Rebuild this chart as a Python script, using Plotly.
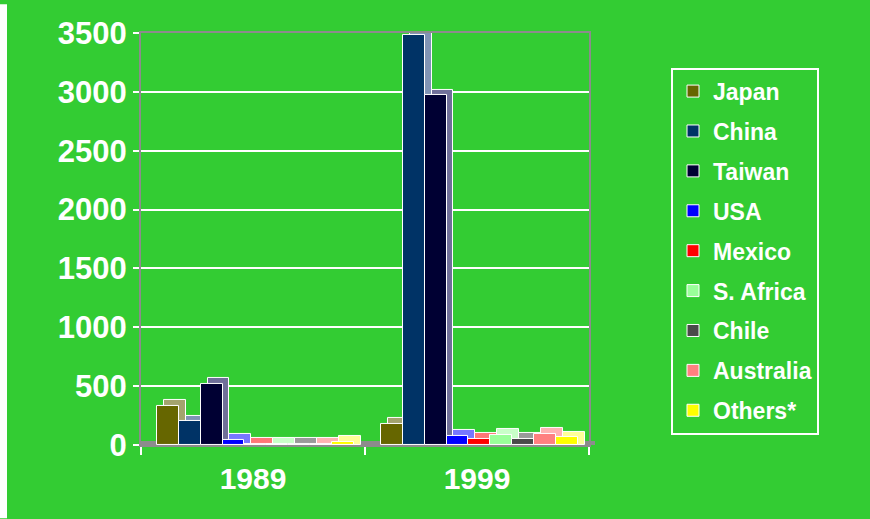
import plotly.graph_objects as go

years = ["1989", "1999"]
countries = ["Japan", "China", "Taiwan", "USA", "Mexico", "S. Africa", "Chile", "Australia", "Others*"]
values = {
    "Japan":     [330, 180],
    "China":     [200, 3480],
    "Taiwan":    [520, 2970],
    "USA":       [45, 80],
    "Mexico":    [8, 55],
    "S. Africa": [8, 85],
    "Chile":     [10, 55],
    "Australia": [10, 95],
    "Others*":   [25, 65],
}
front_colors = ["#666600", "#003366", "#000033", "#0000FF", "#FF0000", "#99FF99", "#4a4a4a", "#FF8080", "#FFFF00"]
side_colors = ["#a3a36e", "#7f93b5", "#6f6f99", "#7777ff", "#ff7777", "#c8ffc8", "#9a9a9a", "#ffb3b3", "#ffff99"]
y_ticks = [0, 500, 1000, 1500, 2000, 2500, 3000, 3500]

GREEN = "#33CC33"
SLOT = 0.098
START = -0.43
DX = 0.031
DY = 50

fig = go.Figure()
for i, c in enumerate(countries):
    vals = values[c]
    fig.add_trace(go.Bar(
        x=years, y=[v + DY for v in vals], offset=START + i * SLOT + DX, width=SLOT,
        marker=dict(color=side_colors[i], line=dict(color="white", width=1)),
        showlegend=False, hoverinfo="skip", xaxis="x", yaxis="y"))
    fig.add_trace(go.Bar(
        x=years, y=vals, offset=START + i * SLOT, width=SLOT, name=c,
        legendgroup=c,
        marker=dict(color=front_colors[i], line=dict(color="white", width=1)),
        xaxis="x", yaxis="y"))

font_b = dict(family="Liberation Sans, Arial, sans-serif", color="white", weight="bold")

fig.update_layout(
    width=870, height=519,
    margin=dict(l=141, r=275, t=25, b=74),
    paper_bgcolor=GREEN, plot_bgcolor="rgba(0,0,0,0)",
    barmode="overlay", bargap=0,
    xaxis=dict(type="category", domain=[0, 448 / 454], range=[-0.5, 1.5],
               showline=True, linecolor="white", linewidth=2,
               ticks="outside", tickson="boundaries", ticklen=8, tickwidth=2, tickcolor="white",
               tickfont=dict(size=30, **font_b), ticklabelstandoff=6, showgrid=False),
    yaxis=dict(domain=[0, 416 / 420], range=[0, 3500], tickvals=y_ticks,
               showline=True, linecolor="white", linewidth=2,
               ticks="outside", ticklen=6, tickwidth=2, tickcolor="white",
               tickfont=dict(size=31, **font_b), ticklabelstandoff=0,
               showgrid=False, zeroline=False),
    xaxis2=dict(domain=[6 / 454, 1], range=[0, 1], anchor="y2", overlaying="x",
                showline=True, linecolor="#8c8c8c", linewidth=2, mirror=True,
                showticklabels=False, ticks="", showgrid=False, zeroline=False),
    yaxis2=dict(domain=[4 / 420, 1], range=[0, 3500], anchor="x2", overlaying="y",
                tickvals=y_ticks, showticklabels=False, ticks="",
                showline=True, linecolor="#8c8c8c", linewidth=2, mirror=True,
                showgrid=True, gridcolor="white", gridwidth=2, zeroline=False),
    legend=dict(x=(671 - 141) / 454, y=(445 - 64) / 420, xanchor="left", yanchor="top",
                bgcolor="rgba(0,0,0,0)", bordercolor="white", borderwidth=2,
                font=dict(size=23, **font_b), tracegroupgap=7, itemwidth=30),
    shapes=[
        dict(type="rect", xref="paper", yref="paper", x0=0, x1=1, y0=0, y1=4 / 420,
             fillcolor="#8c8c8c", line=dict(width=0), layer="below"),
        dict(type="rect", xref="paper", yref="paper", x0=-141 / 454, x1=-134 / 454,
             y0=-74 / 420, y1=445 / 420, fillcolor="white", line=dict(width=0), layer="below"),
    ],
)
# invisible point so the back-wall axes render
fig.add_trace(go.Scatter(x=[0], y=[0], xaxis="x2", yaxis="y2", mode="markers",
                         marker=dict(opacity=0), showlegend=False, hoverinfo="skip"))

fig.write_html("out.html", config={"displayModeBar": False},
               post_script="document.body.style.margin='0';")
